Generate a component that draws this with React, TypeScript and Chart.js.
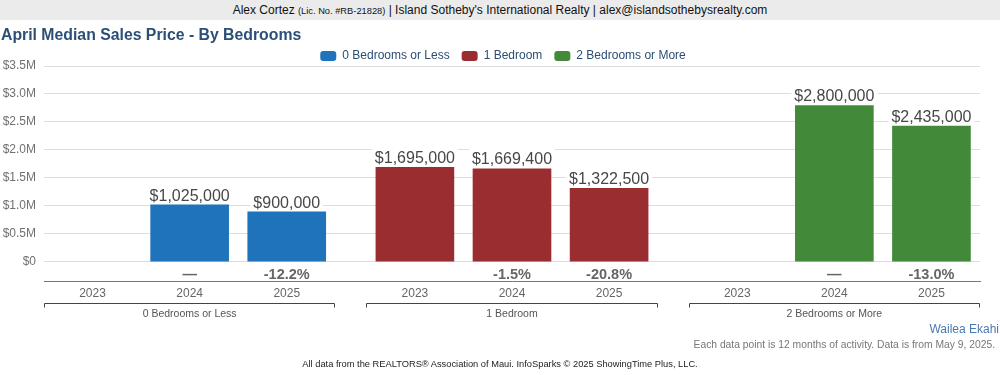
import React, { useEffect, useRef } from "react";
import { Chart, registerables } from "chart.js";

Chart.register(...registerables);

const FONT = '"Liberation Sans", Arial, Helvetica, sans-serif';

// ---- data ----
const groups = ["0 Bedrooms or Less", "1 Bedroom", "2 Bedrooms or More"];
const years = ["2023", "2024", "2025"];
const zeroBedValues: (number | null)[] = [null, 1025000, 900000];
const oneBedValues: (number | null)[] = [1695000, 1669400, 1322500];
const twoBedValues: (number | null)[] = [null, 2800000, 2435000];
const zeroBedChange = ["", "—", "-12.2%"];
const oneBedChange = ["", "-1.5%", "-20.8%"];
const twoBedChange = ["", "—", "-13.0%"];
const yTickValues = [0, 500000, 1000000, 1500000, 2000000, 2500000, 3000000, 3500000];
const yTickLabels = ["$0", "$0.5M", "$1.0M", "$1.5M", "$2.0M", "$2.5M", "$3.0M", "$3.5M"];

const seriesValues = [zeroBedValues, oneBedValues, twoBedValues];
const seriesChange = [zeroBedChange, oneBedChange, twoBedChange];
const seriesColors = ["#1f73ba", "#9a2d30", "#43893a"];

// ---- layout constants (styling, not data) ----
const GROUP_GAP = 0.32; // gap between groups, in category widths
const Y_MIN = -340000; // room below $0 for the change row
const Y_MAX = 3500000;
const pos = (g: number, i: number) => g * (years.length + GROUP_GAP) + i;
const X_MIN = -0.5;
const X_MAX = pos(groups.length - 1, years.length - 1) + 0.5;
const LEGEND_SHIFT = 26;

const fmtMoney = (v: number) => "$" + v.toLocaleString("en-US");

const overlayPlugin = {
  id: "overlayLabels",
  afterLayout(chart: any) {
    if (chart.legend) {
      chart.legend.left += LEGEND_SHIFT;
    }
  },
  afterDatasetsDraw(chart: any) {
    const { ctx } = chart;
    ctx.save();
    ctx.font = `16px ${FONT}`;
    ctx.textAlign = "center";
    ctx.textBaseline = "alphabetic";
    seriesValues.forEach((vals, di) => {
      const meta = chart.getDatasetMeta(di);
      vals.forEach((v, i) => {
        if (v == null) return;
        const bar = meta.data[i];
        if (!bar) return;
        const text = fmtMoney(v);
        const w = ctx.measureText(text).width;
        const base = bar.y - 4;
        ctx.fillStyle = "#ffffff";
        ctx.fillRect(bar.x - w / 2 - 3, base - 16, w + 6, 18);
        ctx.fillStyle = "#474747";
        ctx.fillText(text, bar.x, base);
      });
    });
    ctx.restore();
  },
  afterDraw(chart: any) {
    const { ctx } = chart;
    const x = chart.scales.x;
    const y = chart.scales.y;
    const x2 = chart.scales.x2;
    ctx.save();
    // change row
    ctx.font = `bold 14.5px ${FONT}`;
    ctx.textAlign = "center";
    ctx.textBaseline = "alphabetic";
    ctx.fillStyle = "#666666";
    const base = y.bottom - 2.5;
    seriesChange.forEach((row, g) => {
      row.forEach((t, i) => {
        if (!t) return;
        ctx.fillText(t, x.getPixelForValue(pos(g, i)), base);
      });
    });
    // group brackets
    ctx.strokeStyle = "#444444";
    ctx.lineWidth = 1;
    const by = Math.round(x2.top) + 0.5;
    groups.forEach((_, g) => {
      const l = Math.round(x.getPixelForValue(pos(g, 0) - 0.5)) + 0.5;
      const r = Math.round(x.getPixelForValue(pos(g, years.length - 1) + 0.5)) - 0.5;
      ctx.beginPath();
      ctx.moveTo(l, by + 4);
      ctx.lineTo(l, by);
      ctx.lineTo(r, by);
      ctx.lineTo(r, by + 4);
      ctx.stroke();
    });
    ctx.restore();
  },
};

export default function App() {
  const canvasRef = useRef<HTMLCanvasElement | null>(null);

  useEffect(() => {
    document.body.style.margin = "0";
    const canvas = canvasRef.current;
    if (!canvas) return;
    Chart.defaults.font.family = FONT;

    const chart = new Chart(canvas, {
      type: "bar",
      data: {
        datasets: groups.map((name, g) => ({
          label: name,
          data: seriesValues[g].map((v, i) => ({ x: pos(g, i), y: v })) as any,
          backgroundColor: seriesColors[g],
          borderWidth: 0,
          grouped: false,
          barPercentage: 0.81,
          categoryPercentage: 1,
          xAxisID: "x",
          yAxisID: "y",
        })),
      },
      options: {
        animation: false,
        responsive: false,
        events: [],
        layout: { padding: { top: 38, right: 20, bottom: 52, left: 0 } },
        plugins: {
          title: { display: false },
          tooltip: { enabled: false },
          legend: {
            display: true,
            position: "top",
            align: "center",
            maxHeight: 28,
            labels: {
              boxWidth: 16,
              boxHeight: 10,
              useBorderRadius: true,
              borderRadius: 3,
              padding: 12,
              color: "#2c4e75",
              font: { size: 12, family: FONT },
            },
          } as any,
        },
        scales: {
          x: {
            type: "linear",
            position: "bottom",
            min: X_MIN,
            max: X_MAX,
            offset: false,
            weight: 0,
            grid: { display: false, drawTicks: false },
            border: { display: true, color: "#777777", width: 1 },
            afterBuildTicks: (s: any) => {
              s.ticks = groups.flatMap((_, g) => years.map((_, i) => ({ value: pos(g, i) })));
            },
            afterFit: (s: any) => {
              s.height = 22;
            },
            ticks: {
              autoSkip: false,
              maxRotation: 0,
              minRotation: 0,
              padding: 5.5,
              color: "#666666",
              font: { size: 12 },
              callback: (_v: any, i: number) => years[i % years.length],
            },
          },
          x2: {
            type: "linear",
            position: "bottom",
            min: X_MIN,
            max: X_MAX,
            offset: false,
            weight: 1,
            grid: { display: false, drawTicks: false },
            border: { display: false },
            afterBuildTicks: (s: any) => {
              s.ticks = groups.map((_, g) => ({ value: pos(g, 1) }));
            },
            afterFit: (s: any) => {
              s.height = 20;
            },
            ticks: {
              autoSkip: false,
              maxRotation: 0,
              minRotation: 0,
              padding: 4.5,
              color: "#555555",
              font: { size: 10.5 },
              callback: (_v: any, i: number) => groups[i],
            },
          },
          y: {
            type: "linear",
            min: Y_MIN,
            max: Y_MAX,
            grid: { color: "#dddddd", drawTicks: false },
            border: { display: false },
            afterBuildTicks: (s: any) => {
              s.ticks = yTickValues.map((v) => ({ value: v }));
            },
            afterFit: (s: any) => {
              s.width = 44;
            },
            ticks: {
              padding: 8,
              color: "#707070",
              font: { size: 12 },
              callback: (v: any) => {
                const idx = yTickValues.indexOf(Number(v));
                return idx >= 0 ? yTickLabels[idx] : "";
              },
            },
          },
        },
      } as any,
      plugins: [overlayPlugin],
    });
    return () => chart.destroy();
  }, []);

  const abs = (extra: React.CSSProperties): React.CSSProperties => ({
    position: "absolute",
    fontFamily: FONT,
    whiteSpace: "nowrap",
    pointerEvents: "none",
    ...extra,
  });

  return (
    <div style={{ position: "relative", width: 1000, height: 375, background: "#ffffff", overflow: "hidden" }}>
      <canvas
        ref={canvasRef}
        width={1000}
        height={375}
        style={{ position: "absolute", left: 0, top: 0, width: 1000, height: 375 }}
      />
      <div
        style={abs({
          left: 0,
          top: 0,
          width: 1000,
          height: 20,
          lineHeight: "21px",
          background: "#ebebeb",
          textAlign: "center",
          fontSize: 12,
          color: "#111111",
        })}
      >
        Alex Cortez <span style={{ fontSize: 9.3 }}>(Lic. No. #RB-21828)</span> | Island Sotheby's International Realty |
        alex@islandsothebysrealty.com
      </div>
      <div style={abs({ left: 1, top: 25, fontSize: 15.8, lineHeight: "20px", fontWeight: "bold", color: "#2c4f77" })}>
        April Median Sales Price - By Bedrooms
      </div>
      <div style={abs({ right: 1, top: 322, fontSize: 12, lineHeight: "14px", color: "#4a79b2" })}>Wailea Ekahi</div>
      <div style={abs({ right: 5, top: 339, fontSize: 10.3, lineHeight: "12px", color: "#777777" })}>
        Each data point is 12 months of activity. Data is from May 9, 2025.
      </div>
      <div
        style={abs({ left: 0, width: 1000, textAlign: "center", top: 358, fontSize: 9.3, lineHeight: "12px", color: "#222222" })}
      >
        All data from the REALTORS® Association of Maui. InfoSparks © 2025 ShowingTime Plus, LLC.
      </div>
    </div>
  );
}
